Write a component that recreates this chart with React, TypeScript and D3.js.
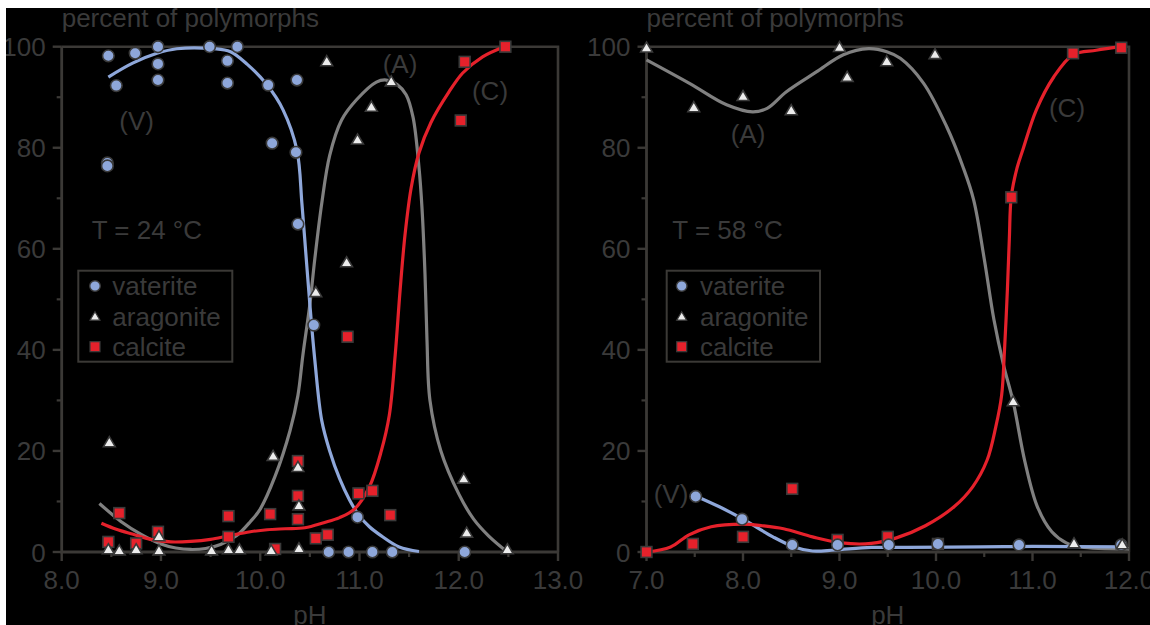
import React from "react";
import * as d3 from "d3";

type P = [number, number];

// ---------- Left panel (T = 24 °C) ----------
const vateriteL: P[] = [
  [8.47, 98.2], [8.46, 77], [8.46, 76.4], [8.55, 92.3], [8.74, 98.7], [8.97, 100], [8.97, 96.6], [8.97, 93.4],
  [9.49, 100], [9.67, 97.2], [9.67, 92.8], [9.77, 100], [10.08, 92.4], [10.12, 80.9], [10.37, 93.4],
  [10.36, 79.1], [10.38, 64.9], [10.54, 44.9], [10.98, 6.9], [10.69, 0], [10.89, 0], [11.13, 0], [11.33, 0], [12.06, 0],
];
const aragoniteL: P[] = [
  [8.48, 21.6], [8.47, 0.4], [8.58, 0.2], [8.75, 0.4], [8.98, 0.2], [8.98, 3.0], [9.51, 0.2], [9.68, 0.4],
  [9.79, 0.4], [10.11, 0.2], [10.13, 18.9], [10.38, 16.7], [10.39, 9.1], [10.39, 0.6], [10.56, 51.3],
  [10.87, 57.2], [10.67, 97], [10.98, 81.5], [11.12, 88], [11.32, 93], [12.05, 14.4], [12.08, 3.7], [12.49, 0.4],
];
const calciteL: P[] = [
  [8.47, 2.0], [8.58, 7.7], [8.75, 1.7], [8.97, 4.0], [9.68, 7.1], [9.68, 3.0], [10.1, 7.5], [10.15, 0.6],
  [10.38, 18.0], [10.38, 11.1], [10.38, 6.5], [10.56, 2.7], [10.68, 3.4], [10.88, 42.6], [10.99, 11.6],
  [11.13, 12.1], [11.31, 7.3], [12.02, 85.4], [12.06, 97], [12.47, 100],
];
const vateriteFitL: P[] = [
  [8.47, 94], [8.72, 96.8], [8.96, 98.7], [9.16, 99.6], [9.53, 99.6], [9.7, 99], [9.87, 96.5], [10.07, 92.4],
  [10.23, 87.5], [10.37, 79.5], [10.42, 69], [10.46, 59], [10.5, 49], [10.55, 38], [10.62, 26], [10.7, 20],
  [10.8, 14.5], [10.9, 10.3], [10.99, 7.4], [11.1, 5], [11.22, 3.2], [11.4, 1], [11.6, 0.1],
];
const aragoniteFitL: P[] = [
  [8.38, 9.6], [8.6, 6], [8.8, 3.5], [9.0, 1.6], [9.15, 0.8], [9.3, 0.5], [9.45, 0.7], [9.6, 1.5], [9.76, 3.2],
  [9.9, 6], [10.0, 8.5], [10.15, 15], [10.3, 24], [10.38, 31], [10.43, 39], [10.5, 49], [10.55, 58], [10.62, 69],
  [10.7, 78.5], [10.82, 85.5], [10.97, 89.5], [11.17, 93], [11.27, 93.4], [11.38, 92.5], [11.47, 90.5],
  [11.54, 86], [11.6, 76], [11.63, 68], [11.66, 55], [11.68, 42], [11.71, 30], [11.82, 20], [12.0, 11.5],
  [12.15, 6.5], [12.3, 3.2], [12.49, 0],
];
const calciteFitL: P[] = [
  [8.4, 5.7], [8.55, 4.5], [8.72, 3.5], [8.9, 2.5], [9.1, 2.0], [9.3, 2.1], [9.5, 2.5], [9.68, 3.2], [9.9, 4.0],
  [10.07, 4.4], [10.25, 4.6], [10.45, 4.8], [10.64, 5.8], [10.8, 6.8], [10.95, 8.5], [11.1, 12.9], [11.22, 20],
  [11.3, 27], [11.36, 39], [11.41, 52], [11.46, 63], [11.52, 72], [11.6, 79], [11.72, 85], [11.9, 91],
  [12.04, 94.8], [12.24, 98], [12.46, 100],
];

// ---------- Right panel (T = 58 °C) ----------
const vateriteR: P[] = [
  [7.51, 11], [7.99, 6.5], [8.51, 1.4], [8.98, 1.4], [9.51, 1.4], [10.02, 1.6], [10.86, 1.4], [11.92, 1.4],
];
const aragoniteR: P[] = [
  [7.0, 99.7], [7.49, 87.9], [8.0, 90.1], [8.5, 87.3], [9.0, 99.8], [9.08, 93.9], [9.49, 97], [9.99, 98.4],
  [10.8, 29.7], [11.43, 1.6], [11.93, 1.4],
];
const calciteR: P[] = [
  [7.0, 0], [7.48, 1.6], [8.0, 3], [8.51, 12.5], [8.98, 2.4], [9.5, 3], [10.02, 1.6], [10.78, 70.2],
  [11.42, 98.7], [11.92, 99.8],
];
const vateriteFitR: P[] = [
  [7.52, 11], [7.75, 9], [8.0, 6.5], [8.31, 3], [8.53, 1], [8.72, 0.2], [8.95, 0.4], [9.33, 0.9], [9.7, 0.9],
  [10.46, 1], [11.0, 1.1], [11.96, 1],
];
const aragoniteFitR: P[] = [
  [7.0, 97.4], [7.45, 92.7], [7.83, 88.5], [8.1, 87.1], [8.25, 87.8], [8.45, 91.1], [8.76, 95], [9.04, 98.4],
  [9.3, 99.6], [9.49, 99], [9.63, 97.7], [9.87, 92.8], [10.11, 84.2], [10.28, 76.2], [10.39, 69.7], [10.5, 58],
  [10.6, 46], [10.7, 37], [10.8, 29.7], [10.92, 18], [11.05, 9], [11.2, 4], [11.35, 1.8], [11.5, 1], [12.0, 0.6],
];
const calciteFitR: P[] = [
  [7.0, 0], [7.25, 1], [7.44, 3.4], [7.67, 5], [8.0, 5.5], [8.2, 5.2], [8.42, 4.6], [8.72, 3], [9.02, 1.8],
  [9.33, 1.7], [9.59, 2.8], [9.89, 5.2], [10.19, 9], [10.38, 12.9], [10.53, 18.2], [10.62, 24.8], [10.68, 31],
  [10.71, 40], [10.74, 52], [10.76, 62], [10.78, 70.3], [10.84, 76], [10.9, 79.6], [11.04, 87.5], [11.22, 94],
  [11.42, 98.4], [11.66, 99.3], [11.92, 100],
];

const yTicks = [0, 20, 40, 60, 80, 100];
const yMinor = [10, 30, 50, 70, 90];
const xTicksL = [8, 9, 10, 11, 12, 13];
const xTicksR = [7, 8, 9, 10, 11, 12];
const legendItems = ["vaterite", "aragonite", "calcite"];

const TXT = "#3a3a3a";
const AX = "#3b3936";
const BLUE = "#8ea7da";
const GRAY = "#808080";
const RED = "#e5212b";
const FONT = "'Liberation Sans', Arial, Helvetica, sans-serif";

type Label = { t: string; x: number; y: number };

type PanelProps = {
  x0: number; x1: number; dom: [number, number]; xTicks: number[];
  vat: P[]; ara: P[]; cal: P[]; vatFit: P[]; araFit: P[]; calFit: P[];
  temp: string; tempX: number; legX: number; legW: number; labels: Label[];
};

const Y0 = 552, Y1 = 46.7;

function Tri({ x, y }: { x: number; y: number }) {
  const s = 6.2;
  return (
    <path d={`M${x},${y - s}L${x + s * 0.95},${y + s * 0.62}L${x - s * 0.95},${y + s * 0.62}Z`}
      fill="#ececec" stroke="#3a3a3a" strokeWidth={1.6} />
  );
}
function Sq({ x, y }: { x: number; y: number }) {
  const s = 5.4;
  return <rect x={x - s} y={y - s} width={2 * s} height={2 * s} fill={RED} stroke="#3a3a3a" strokeWidth={1.6} />;
}
function Circ({ x, y }: { x: number; y: number }) {
  return <circle cx={x} cy={y} r={5.8} fill={BLUE} stroke="#3a3a3a" strokeWidth={1.6} />;
}

function Panel(p: PanelProps) {
  const xs = d3.scaleLinear().domain(p.dom).range([p.x0, p.x1]);
  const ys = d3.scaleLinear().domain([0, 100]).range([Y0, Y1]);
  const line = d3.line<P>().x((d) => xs(d[0])).y((d) => ys(d[1])).curve(d3.curveCatmullRom.alpha(0.5));
  const minorX = d3.range(p.dom[0] + 0.5, p.dom[1], 1);
  const legY = [286, 316.7, 346.7];
  return (
    <g fontFamily={FONT} fill={TXT}>
      {/* frame */}
      <path d={`M${p.x0},${Y1}H${p.x1}V${Y0}`} fill="none" stroke={AX} strokeWidth={2.6} />
      <path d={`M${p.x0},${Y1}V${Y0}H${p.x1}`} fill="none" stroke={AX} strokeWidth={2.8} />
      {yTicks.map((t) => (
        <g key={"y" + t}>
          <line x1={p.x0 - 9} x2={p.x0} y1={ys(t)} y2={ys(t)} stroke={AX} strokeWidth={2.4} />
          <text x={p.x0 - 16} y={ys(t) + 9.5} textAnchor="end" fontSize={26}>{t}</text>
        </g>
      ))}
      {yMinor.map((t) => (
        <line key={"ym" + t} x1={p.x0 - 5} x2={p.x0} y1={ys(t)} y2={ys(t)} stroke={AX} strokeWidth={2.2} />
      ))}
      {p.xTicks.map((t) => (
        <g key={"x" + t}>
          <line x1={xs(t)} x2={xs(t)} y1={Y0} y2={Y0 + 9} stroke={AX} strokeWidth={2.4} />
          <text x={xs(t)} y={589} textAnchor="middle" fontSize={26}>{t.toFixed(1)}</text>
        </g>
      ))}
      {minorX.map((t) => (
        <line key={"xm" + t} x1={xs(t)} x2={xs(t)} y1={Y0} y2={Y0 + 5} stroke={AX} strokeWidth={2.2} />
      ))}
      <text x={(p.x0 + p.x1) / 2} y={624} textAnchor="middle" fontSize={26}>pH</text>
      <text x={p.x0} y={27} fontSize={26}>percent of polymorphs</text>
      <text x={p.tempX} y={238.5} fontSize={26}>{p.temp}</text>
      {p.labels.map((l) => (
        <text key={l.t} x={l.x} y={l.y + 9.5} textAnchor="middle" fontSize={26}>{l.t}</text>
      ))}
      {/* legend */}
      <rect x={p.legX} y={270.7} width={p.legW} height={91} fill="none" stroke={AX} strokeWidth={2} />
      {legendItems.map((name, i) => {
        const cx = p.legX + (p.legX > 600 ? 15 : 16.7);
        const cy = legY[i];
        return (
          <g key={name}>
            {i === 0 && <circle cx={cx} cy={cy} r={5.3} fill={BLUE} stroke="#3a3a3a" strokeWidth={1.4} />}
            {i === 1 && <path d={`M${cx},${cy - 5}L${cx + 5},${cy + 3.5}L${cx - 5},${cy + 3.5}Z`} fill="#ececec" stroke="#3a3a3a" strokeWidth={1.2} />}
            {i === 2 && <rect x={cx - 5} y={cy - 5} width={10} height={10} fill={RED} stroke="#3a3a3a" strokeWidth={1.2} />}
            <text x={p.legX + (p.legX > 600 ? 33.3 : 34)} y={cy + 9} fontSize={26}>{name}</text>
          </g>
        );
      })}
      {/* fitted curves */}
      <path d={line(p.araFit) || ""} fill="none" stroke={GRAY} strokeWidth={3.2} />
      <path d={line(p.vatFit) || ""} fill="none" stroke={BLUE} strokeWidth={3.2} />
      <path d={line(p.calFit) || ""} fill="none" stroke={RED} strokeWidth={3.2} />
      {/* markers */}
      {p.cal.map((d, i) => <Sq key={"c" + i} x={xs(d[0])} y={ys(d[1])} />)}
      {p.vat.map((d, i) => <Circ key={"v" + i} x={xs(d[0])} y={ys(d[1])} />)}
      {p.ara.map((d, i) => <Tri key={"a" + i} x={xs(d[0])} y={ys(d[1])} />)}
    </g>
  );
}

export default function App() {
  return (
    <svg width={1144} height={617}
      style={{ position: "absolute", left: 6, top: 8, display: "block", background: "#000" }}>
      <g transform="translate(-6,-8)">
        <rect x={6} y={8} width={1144} height={617} fill="#000" />
        <Panel x0={61.7} x1={558} dom={[8, 13]} xTicks={xTicksL}
          vat={vateriteL} ara={aragoniteL} cal={calciteL}
          vatFit={vateriteFitL} araFit={aragoniteFitL} calFit={calciteFitL}
          temp="T = 24 °C" tempX={91.7} legX={78.3} legW={154}
          labels={[{ t: "(V)", x: 136.7, y: 120 }, { t: "(A)", x: 400, y: 63 }, { t: "(C)", x: 490, y: 90 }]} />
        <Panel x0={646.5} x1={1129} dom={[7, 12]} xTicks={xTicksR}
          vat={vateriteR} ara={aragoniteR} cal={calciteR}
          vatFit={vateriteFitR} araFit={aragoniteFitR} calFit={calciteFitR}
          temp="T = 58 °C" tempX={672.3} legX={666.7} legW={153.3}
          labels={[{ t: "(A)", x: 748, y: 133 }, { t: "(C)", x: 1067, y: 107 }, { t: "(V)", x: 671, y: 493 }]} />
      </g>
    </svg>
  );
}
